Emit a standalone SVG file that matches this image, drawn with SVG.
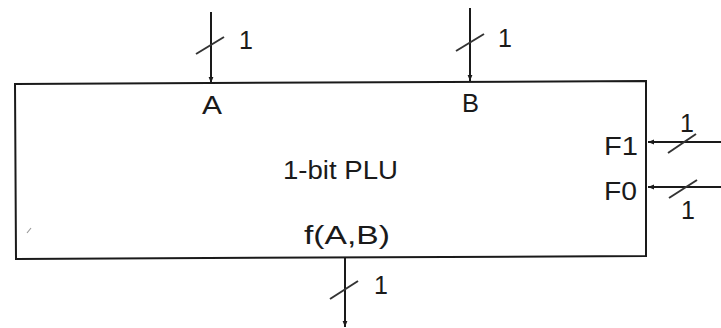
<svg xmlns="http://www.w3.org/2000/svg" width="721" height="328" viewBox="0 0 721 328">
<style>
.ln{stroke:#1a1a1a;stroke-width:2;fill:none}
.sl{stroke:#333;stroke-width:2;fill:none}
.t{font-family:"Liberation Sans",Arial,sans-serif;font-size:25px;fill:#1a1a1a}
</style>
<defs>
<marker id="ah" viewBox="0 0 10 10" refX="10" refY="5" markerWidth="6" markerHeight="6" orient="auto" markerUnits="userSpaceOnUse">
<path d="M0,1 L10,5 L0,9 z" fill="#1a1a1a"/>
</marker>
</defs>
<rect width="721" height="328" fill="#fff"/>
<g id="plu">
<path class="ln" d="M15,84 L646,81 L646,256 L16,259 Z" stroke-width="2.5"/>
<text class="t" x="283" y="179" textLength="115" lengthAdjust="spacingAndGlyphs">1-bit PLU</text>
<text class="t" x="202" y="114" textLength="20" lengthAdjust="spacingAndGlyphs" font-size="26">A</text>
<text class="t" x="462" y="112" textLength="17" lengthAdjust="spacingAndGlyphs" font-size="26">B</text>
<text class="t" x="604" y="155" textLength="34" lengthAdjust="spacingAndGlyphs" font-size="26">F1</text>
<text class="t" x="604" y="200" textLength="33" lengthAdjust="spacingAndGlyphs" font-size="26">F0</text>
<text class="t" x="304" y="244" textLength="86" lengthAdjust="spacingAndGlyphs" font-size="25">f(A,B)</text>
<path d="M27,233 L31,228" stroke="#999" stroke-width="1.2"/>
</g>
<g id="connectors">
<line class="ln" x1="211" y1="12" x2="211" y2="83" marker-end="url(#ah)"/>
<line class="sl" x1="196" y1="54" x2="224" y2="37"/>
<text class="t" x="246" y="49" text-anchor="middle">1</text>
<line class="ln" x1="470" y1="8" x2="470" y2="81" marker-end="url(#ah)"/>
<line class="sl" x1="456" y1="51" x2="484" y2="34"/>
<text class="t" x="505" y="47" text-anchor="middle">1</text>
<line class="ln" x1="721" y1="142" x2="648" y2="142" marker-end="url(#ah)"/>
<line class="sl" x1="668" y1="153" x2="696" y2="134"/>
<text class="t" x="687" y="132" text-anchor="middle">1</text>
<line class="ln" x1="721" y1="187" x2="648" y2="187" marker-end="url(#ah)"/>
<line class="sl" x1="669" y1="198" x2="697" y2="180"/>
<text class="t" x="688" y="219" text-anchor="middle">1</text>
<line class="ln" x1="345" y1="258" x2="345" y2="327" marker-end="url(#ah)"/>
<line class="sl" x1="330" y1="299" x2="358" y2="281"/>
<text class="t" x="381" y="294" text-anchor="middle">1</text>
</g>
</svg>
